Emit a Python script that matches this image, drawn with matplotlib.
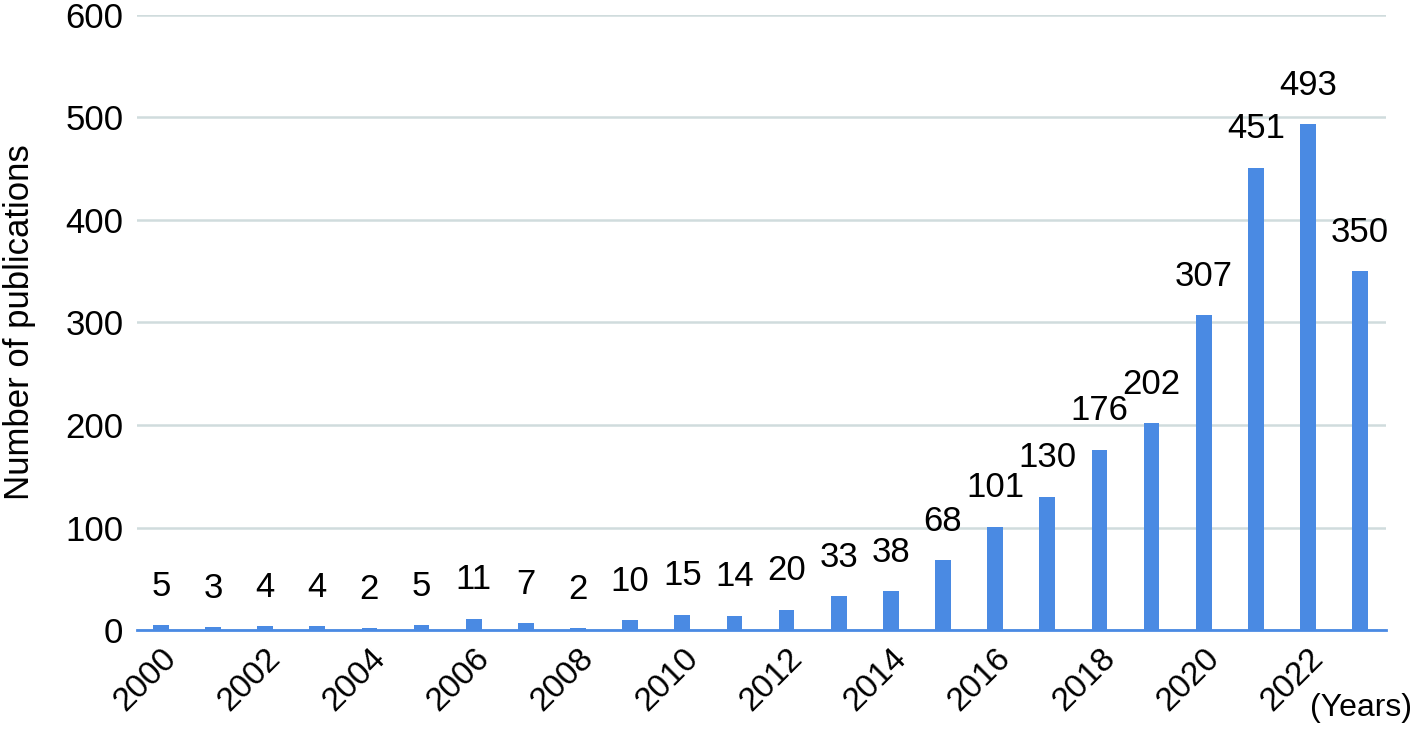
import numpy as np
import matplotlib.pyplot as plt

plt.rcParams['font.family'] = ['Liberation Sans', 'DejaVu Sans']

# Publications per year
years = list(range(2000, 2024))
counts = [5, 3, 4, 4, 2, 5, 11, 7, 2, 10, 15, 14, 20, 33, 38,
          68, 101, 130, 176, 202, 307, 451, 493, 350]
tick_years = list(range(2000, 2023, 2))

bar_color = '#4a8ae3'

fig = plt.figure(figsize=(14.16, 7.32), dpi=100)
ax = fig.add_axes([0.097, 0.139, 0.882, 0.841])

x = np.arange(len(years))
ax.bar(x, counts, width=0.3, color=bar_color, zorder=3)

for xi, c in zip(x, counts):
    ax.text(xi, c + 38, str(c), ha='center', va='center', fontsize=25, color='black')

ax.set_ylim(0, 600)
ax.set_xlim(-0.45, 23.5)
ax.set_yticks(range(0, 601, 100))
ax.tick_params(axis='y', labelsize=25, length=0, pad=10)
ax.grid(axis='y', color='#d0dcdd', linewidth=1.8, zorder=0)

ax.set_xticks([years.index(y) for y in tick_years])
ax.set_xticklabels([str(y) for y in tick_years], rotation=45, ha='right',
                   rotation_mode='anchor', fontsize=24)
ax.tick_params(axis='x', length=0, pad=9)

for s in ['top', 'right', 'left']:
    ax.spines[s].set_visible(False)
ax.spines['bottom'].set_color(bar_color)
ax.spines['bottom'].set_linewidth(2)
ax.spines['bottom'].set_zorder(4)

ax.set_ylabel('Number of publications', fontsize=25)
ax.yaxis.set_label_coords(-0.081, 0.5)

fig.text(0.997, 0.012, '(Years)', ha='right', va='bottom', fontsize=23)

fig.savefig('out.png', dpi=100)
